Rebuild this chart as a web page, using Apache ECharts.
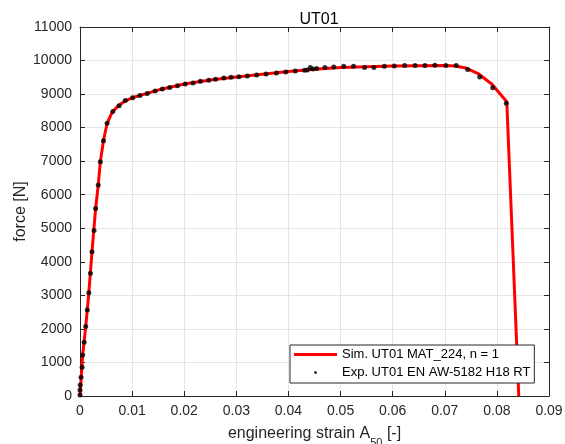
<!DOCTYPE html>
<html>
<head>
<meta charset="utf-8">
<script src="https://cdn.jsdelivr.net/npm/echarts@6/dist/echarts.min.js"></script>
<style>
  html, body { margin:0; padding:0; background:#fff; }
  #chart { width:565px; height:444px; }
</style>
</head>
<body>
<div id="chart"></div>
<script>
// experiment: engineering strain [-] and force [N]
var expStrain = [0, 0, 0.00004, 0.0002, 0.0004, 0.0005, 0.0008, 0.0011, 0.0014, 0.0017,
  0.002, 0.0023, 0.0027, 0.003, 0.0035, 0.0039, 0.0045, 0.0052, 0.0063, 0.0075,
  0.0087, 0.0101, 0.0115, 0.0129, 0.0144, 0.0158, 0.0172, 0.0187, 0.0202, 0.0217,
  0.0231, 0.0247, 0.026, 0.0276, 0.029, 0.0305, 0.0321, 0.0339, 0.0357, 0.0377,
  0.0395, 0.0413, 0.0431, 0.0436, 0.0442, 0.0447, 0.0454, 0.047, 0.0487, 0.0506,
  0.0525, 0.0546, 0.0564, 0.0584, 0.0603, 0.0623, 0.0643, 0.0662, 0.0681, 0.0702,
  0.0722, 0.0744, 0.0767, 0.0792, 0.0818];
var expForce = [30, 180, 330, 560, 855, 1220, 1600, 2070, 2560, 3080,
  3660, 4300, 4930, 5590, 6290, 6980, 7610, 8130, 8480, 8650,
  8810, 8890, 8960, 9020, 9090, 9150, 9200, 9250, 9300, 9330,
  9380, 9410, 9440, 9480, 9500, 9520, 9540, 9570, 9600, 9630,
  9660, 9690, 9710, 9720, 9790, 9750, 9760, 9790, 9810, 9830,
  9830, 9790, 9790, 9830, 9840, 9850, 9850, 9850, 9860, 9850,
  9850, 9730, 9510, 9190, 8730];

// simulation curve
var simStrain = [0, 0.0005, 0.0011, 0.0017, 0.0023, 0.003, 0.0035, 0.0039, 0.0045, 0.0052,
  0.0062, 0.0075, 0.0087, 0.01, 0.015, 0.02, 0.025, 0.03, 0.035, 0.04,
  0.045, 0.05, 0.055, 0.06, 0.065, 0.07, 0.072, 0.074, 0.0765, 0.079,
  0.0819, 0.0842];
var simForce = [0, 1200, 2070, 3080, 4300, 5590, 6290, 6980, 7610, 8130,
  8470, 8670, 8800, 8890, 9120, 9300, 9420, 9510, 9590, 9670,
  9740, 9790, 9815, 9835, 9845, 9850, 9840, 9780, 9600, 9300,
  8770, 0];

var xTicks = [0, 0.01, 0.02, 0.03, 0.04, 0.05, 0.06, 0.07, 0.08, 0.09];
var yTicks = [0, 1000, 2000, 3000, 4000, 5000, 6000, 7000, 8000, 9000, 10000, 11000];

var simName = 'Sim. UT01 MAT_224, n = 1';
var expName = 'Exp. UT01 EN AW-5182 H18 RT';

var font = 'Liberation Sans, Helvetica, Arial, sans-serif';
var axisCol = '#262626';

function zip(a, b) {
  return a.map(function (v, i) { return [v, b[i]]; });
}

var chart = echarts.init(document.getElementById('chart'));

var baseX = {
  type: 'value',
  min: xTicks[0],
  max: xTicks[xTicks.length - 1],
  interval: 0.01,
  axisLine: { show: true, onZero: false, lineStyle: { color: axisCol, width: 1 } },
  axisTick: { show: true, inside: true, length: 5, lineStyle: { color: axisCol } }
};
var baseY = {
  type: 'value',
  min: yTicks[0],
  max: yTicks[yTicks.length - 1],
  interval: 1000,
  axisLine: { show: true, onZero: false, lineStyle: { color: axisCol, width: 1 } },
  axisTick: { show: true, inside: true, length: 5, lineStyle: { color: axisCol } }
};

chart.setOption({
  animation: false,
  textStyle: { fontFamily: font },
  title: {
    text: 'UT01',
    left: 314,
    top: 7,
    textAlign: 'center',
    textStyle: { fontSize: 16, fontWeight: 'normal', color: '#000', fontFamily: font }
  },
  grid: { left: 80, right: 16, top: 27, bottom: 48, containLabel: false, outerBoundsMode: 'none' },
  legend: {
    orient: 'vertical',
    left: 290,
    top: 345,
    padding: [3, 4, 4, 4],
    itemGap: 5,
    itemWidth: 43,
    itemHeight: 3,
    borderColor: '#262626',
    borderWidth: 1,
    backgroundColor: '#fff',
    textStyle: { fontSize: 13, color: '#000', fontFamily: font },
    data: [
      { name: simName, icon: 'rect' },
      { name: expName, icon: 'circle' }
    ]
  },
  xAxis: [
    Object.assign({}, baseX, {
      position: 'bottom',
      name: '{a|engineering strain A}{s|50}{a| [-]}',
      nameLocation: 'middle',
      nameGap: 24,
      nameMoveOverlap: false,
      nameTextStyle: {
        rich: {
          a: { fontSize: 16, color: axisCol, fontFamily: font },
          s: { fontSize: 11, color: axisCol, fontFamily: font, padding: [17, 0, 0, 0] }
        }
      },
      axisLabel: {
        color: axisCol, fontSize: 14, margin: 8,
        formatter: function (v) { return v === 0 ? '0' : v.toFixed(2); }
      },
      splitLine: { show: true, lineStyle: { color: '#e6e6e6', width: 1 } }
    }),
    Object.assign({}, baseX, {
      position: 'top',
      axisLabel: { show: false },
      splitLine: { show: false }
    })
  ],
  yAxis: [
    Object.assign({}, baseY, {
      position: 'left',
      name: 'force [N]',
      nameLocation: 'middle',
      nameGap: 51,
      nameMoveOverlap: false,
      nameTextStyle: { fontSize: 16, color: axisCol, fontFamily: font },
      axisLabel: {
        color: axisCol, fontSize: 14, margin: 8,
        formatter: function (v) { return String(v); }
      },
      splitLine: { show: true, lineStyle: { color: '#e6e6e6', width: 1 } }
    }),
    Object.assign({}, baseY, {
      position: 'right',
      axisLabel: { show: false },
      splitLine: { show: false }
    })
  ],
  series: [
    {
      name: simName,
      type: 'line',
      data: zip(simStrain, simForce),
      showSymbol: false,
      symbol: 'none',
      color: '#ff0000',
      lineStyle: { color: '#ff0000', width: 3 },
      z: 2
    },
    {
      name: expName,
      type: 'scatter',
      data: zip(expStrain, expForce),
      symbol: 'circle',
      symbolSize: 5,
      color: '#000',
      itemStyle: { color: '#000' },
      z: 3
    }
  ]
});
</script>
</body>
</html>
